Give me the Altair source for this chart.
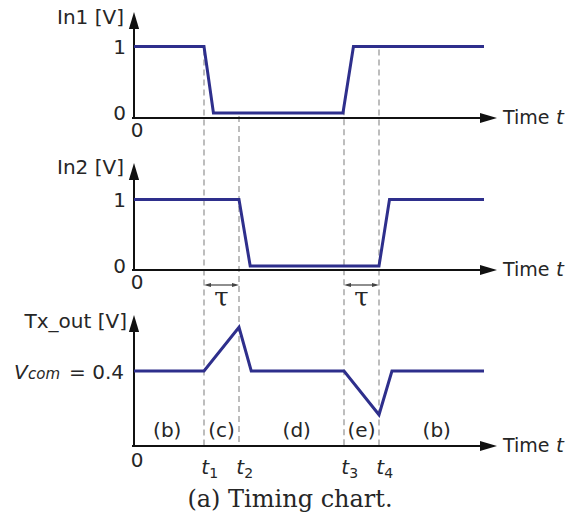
import altair as alt
import pandas as pd

# ---------------------------------------------------------------------------
# Waveform data (time in units of the delay tau, levels in volts)
# ---------------------------------------------------------------------------
in1_t = [0.0, 2.0, 2.27, 5.97, 6.27, 10.0]
in1_v = [1, 1, 0, 0, 1, 1]

in2_t = [0.0, 3.0, 3.32, 7.0, 7.3, 10.0]
in2_v = [1, 1, 0, 0, 1, 1]

tx_t = [0.0, 2.0, 3.0, 3.35, 6.0, 7.0, 7.37, 10.0]
tx_v = [0.4, 0.4, 0.65, 0.4, 0.4, 0.15, 0.4, 0.4]

edge_t = [2.0, 3.0, 6.0, 7.0]          # t1 .. t4
edge_sub = ["1", "2", "3", "4"]
phase_labels = ["(b)", "(c)", "(d)", "(e)", "(b)"]
phase_t = [0.95, 2.5, 4.65, 6.5, 8.65]
tau_spans = [(2.0, 3.0), (6.0, 7.0)]

# ---------------------------------------------------------------------------
# Page layout
# ---------------------------------------------------------------------------
W, H = 569, 522
X0, UNIT = 134, 35.0            # pixel of t = 0, pixels per tau
T_AXIS_END = 9.95

# per panel: screen row of 0 V, pixels per volt, x-axis row, arrow tip row
PANELS = {
    "In1": dict(base=113, gain=66.5, axis=118, tip=12, title="In1 [V]", title_y=18),
    "In2": dict(base=266, gain=66.5, axis=270, tip=163, title="In2 [V]", title_y=168),
    "Tx": dict(base=441, gain=175.0, axis=446, tip=315, title="Tx_out [V]", title_y=322),
}

BLUE = "#2e2f8c"
INK = "#111111"
TEXT = "#262626"
SANS = "DejaVu Sans"
SERIF = "DejaVu Serif"


def tx(px):
    """Horizontal page pixel -> time units."""
    return (px - X0) / UNIT


def row(panel, volts):
    p = PANELS[panel]
    return p["base"] - volts * p["gain"]


xs = alt.Scale(domain=[tx(0), tx(W)], nice=False, zero=False)
ys = alt.Scale(domain=[0, H], reverse=True, nice=False, zero=False)
X = lambda f: alt.X(f, scale=xs, axis=None)
Y = lambda f: alt.Y(f, scale=ys, axis=None)

# ---------------------------------------------------------------------------
# Signals
# ---------------------------------------------------------------------------
sig_rows = []
for name, ts, vs in (("In1", in1_t, in1_v), ("In2", in2_t, in2_v), ("Tx", tx_t, tx_v)):
    for i, (t, v) in enumerate(zip(ts, vs)):
        sig_rows.append(dict(series=name, order=i, x=t, y=row(name, v)))
signals = alt.Chart(pd.DataFrame(sig_rows)).mark_line(
    color=BLUE, strokeWidth=3, strokeJoin="miter"
).encode(x=X("x:Q"), y=Y("y:Q"), detail="series:N", order="order:Q")

# ---------------------------------------------------------------------------
# Axis lines and arrowheads
# ---------------------------------------------------------------------------
axis_rows, up_heads, right_heads = [], [], []
for p in PANELS.values():
    axis_rows.append(dict(x=tx(X0 - 1), x2=T_AXIS_END, y=p["axis"], y2=p["axis"]))
    axis_rows.append(dict(x=0, x2=0, y=p["axis"], y2=p["tip"] + 12))
    up_heads.append(dict(x=0, y=p["tip"] + 8.5))
    right_heads.append(dict(x=tx(488.5), y=p["axis"]))

axes = alt.Chart(pd.DataFrame(axis_rows)).mark_rule(
    color=INK, strokeWidth=2, strokeCap="square"
).encode(x=X("x:Q"), x2="x2:Q", y=Y("y:Q"), y2="y2:Q")

up_arrows = alt.Chart(pd.DataFrame(up_heads)).mark_point(
    shape="M0,-1L0.6,1L-0.6,1Z", size=289, filled=True, color=INK, opacity=1, strokeWidth=0
).encode(x=X("x:Q"), y=Y("y:Q"))

right_arrows = alt.Chart(pd.DataFrame(right_heads)).mark_point(
    shape="M1,0L-1,-0.6L-1,0.6Z", size=289, filled=True, color=INK, opacity=1, strokeWidth=0
).encode(x=X("x:Q"), y=Y("y:Q"))

# ---------------------------------------------------------------------------
# Dashed switching-instant markers
# ---------------------------------------------------------------------------
def in1_level(t):
    for a, b, va, vb in zip(in1_t[:-1], in1_t[1:], in1_v[:-1], in1_v[1:]):
        if a <= t <= b:
            return va + (vb - va) * (t - a) / (b - a)
    return in1_v[-1]


dash_rows = [dict(x=t, y=row("In1", in1_level(t)) + 3, y2=PANELS["Tx"]["axis"]) for t in edge_t]
dashes = alt.Chart(pd.DataFrame(dash_rows)).mark_rule(
    color="#9a9a9a", strokeWidth=1.3, strokeDash=[6, 4]
).encode(x=X("x:Q"), y=Y("y:Q"), y2="y2:Q")

# ---------------------------------------------------------------------------
# tau dimension arrows
# ---------------------------------------------------------------------------
TAU_ROW = 285
tau_line_rows, tau_left, tau_right, tau_text = [], [], [], []
for a, b in tau_spans:
    tau_line_rows.append(dict(x=a + 0.08, x2=b - 0.08, y=TAU_ROW, y2=TAU_ROW))
    tau_left.append(dict(x=a + 0.1, y=TAU_ROW))
    tau_right.append(dict(x=b - 0.1, y=TAU_ROW))
    tau_text.append(dict(x=(a + b) / 2, y=298, label="τ"))

tau_lines = alt.Chart(pd.DataFrame(tau_line_rows)).mark_rule(
    color="#444444", strokeWidth=1.2
).encode(x=X("x:Q"), x2="x2:Q", y=Y("y:Q"), y2="y2:Q")
tau_l = alt.Chart(pd.DataFrame(tau_left)).mark_point(
    shape="M-1,0L1,-0.6L1,0.6Z", size=49, filled=True, color="#444444", opacity=1, strokeWidth=0
).encode(x=X("x:Q"), y=Y("y:Q"))
tau_r = alt.Chart(pd.DataFrame(tau_right)).mark_point(
    shape="M1,0L-1,-0.6L-1,0.6Z", size=49, filled=True, color="#444444", opacity=1, strokeWidth=0
).encode(x=X("x:Q"), y=Y("y:Q"))


# ---------------------------------------------------------------------------
# Text
# ---------------------------------------------------------------------------
def text_layer(rows, **kw):
    style = dict(color=TEXT, font=SANS, fontSize=20, baseline="middle", align="center")
    style.update(kw)
    return alt.Chart(pd.DataFrame(rows)).mark_text(**style).encode(
        x=X("x:Q"), y=Y("y:Q"), text="label:N"
    )


titles = [dict(x=tx(124 if k != "Tx" else 127), y=p["title_y"], label=p["title"]) for k, p in PANELS.items()]
level_ticks = []
for k in ("In1", "In2"):
    level_ticks.append(dict(x=tx(126), y=row(k, 1) + 1, label="1"))
    level_ticks.append(dict(x=tx(126), y=row(k, 0) + 1, label="0"))
origins = [dict(x=tx(137), y=PANELS[k]["axis"] + 13, label="0") for k in ("In1", "In2")]
origins.append(dict(x=tx(137), y=PANELS["Tx"]["axis"] + 15, label="0"))
time_words = [dict(x=tx(503), y=p["axis"], label="Time") for p in PANELS.values()]
time_t = [dict(x=tx(556), y=p["axis"], label="t") for p in PANELS.values()]
phases = [dict(x=t, y=431, label=s) for t, s in zip(phase_t, phase_labels)]
edge_t_lbl = [dict(x=t + 0.03, y=474, label="t") for t in edge_t]
edge_sub_lbl = [dict(x=t + 0.15, y=478, label=s) for t, s in zip(edge_t, edge_sub)]
VCOM_BASE = 379

layers = [
    dashes,
    axes,
    up_arrows,
    right_arrows,
    signals,
    tau_lines,
    tau_l,
    tau_r,
    text_layer(titles, align="right"),
    text_layer(level_ticks, align="right"),
    text_layer(origins),
    text_layer(time_words, align="left", fontSize=19),
    text_layer(time_t, align="left", fontStyle="italic"),
    text_layer(phases),
    text_layer(edge_t_lbl, fontStyle="italic", baseline="alphabetic"),
    text_layer(edge_sub_lbl, fontSize=14, align="left", baseline="alphabetic"),
    text_layer([dict(x=tx(14), y=VCOM_BASE, label="V")], align="left", fontStyle="italic",
               baseline="alphabetic"),
    text_layer([dict(x=tx(28), y=VCOM_BASE, label="com")], align="left", fontStyle="italic",
               fontSize=15, baseline="alphabetic"),
    text_layer([dict(x=tx(124), y=VCOM_BASE, label="= 0.4")], align="right",
               baseline="alphabetic"),
    text_layer(tau_text, font=SERIF, fontSize=26),
    text_layer([dict(x=tx(290), y=500, label="(a) Timing chart.")], font=SERIF, fontSize=24),
]

chart = alt.layer(*layers).properties(
    width=W, height=H, padding=0, autosize=alt.AutoSizeParams(type="none"),
    background="white",
).configure_view(stroke=None)

chart.save("out.html", embed_options={"renderer": "svg", "actions": False})
